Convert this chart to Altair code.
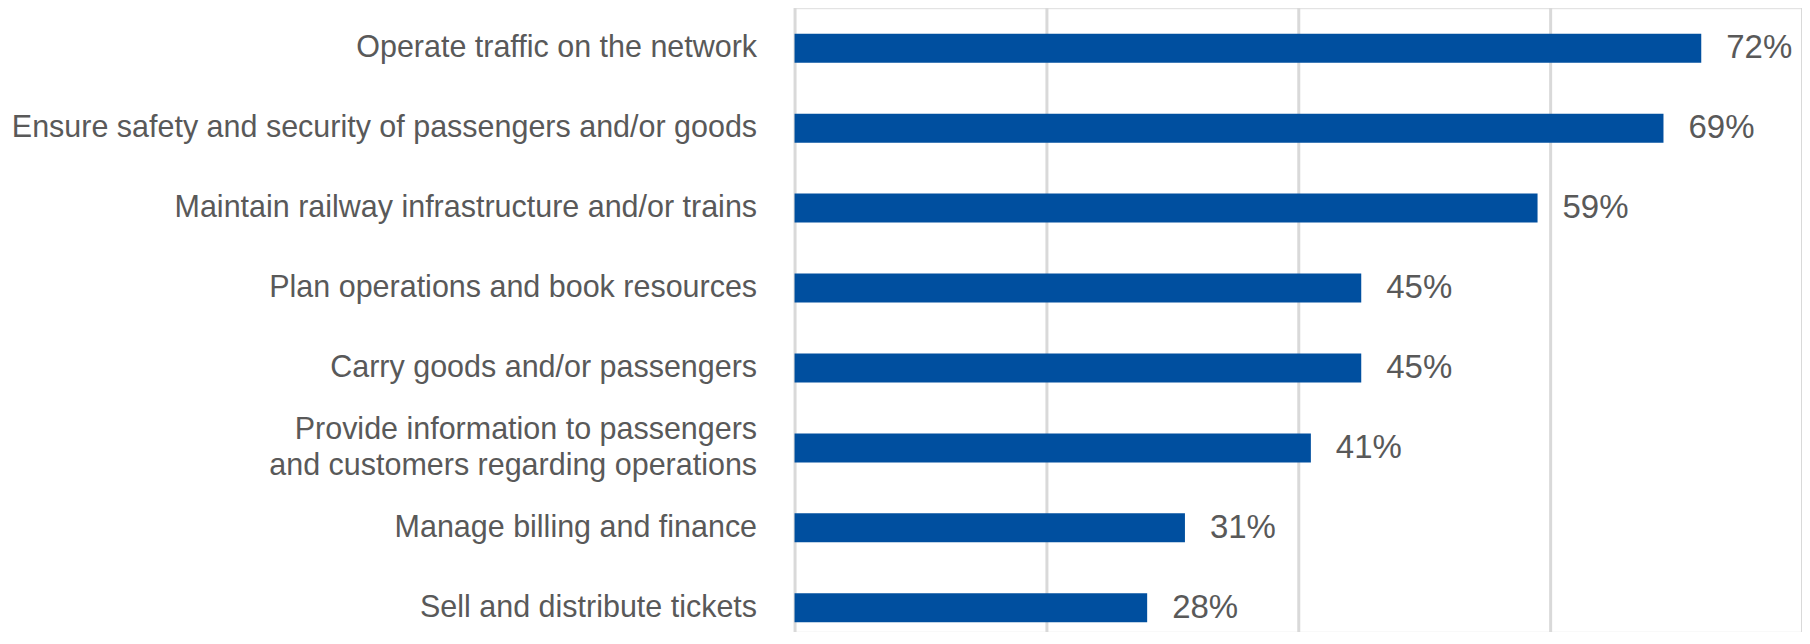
import altair as alt
import pandas as pd

categories = [
    "Operate traffic on the network",
    "Ensure safety and security of passengers and/or goods",
    "Maintain railway infrastructure and/or trains",
    "Plan operations and book resources",
    "Carry goods and/or passengers",
    "Provide information to passengers|and customers regarding operations",
    "Manage billing and finance",
    "Sell and distribute tickets",
]
values = [72, 69, 59, 45, 45, 41, 31, 28]
x_ticks = [0, 20, 40, 60, 80]

df = pd.DataFrame({"task": categories, "share": values})
df["label"] = [f"{v}%" for v in values]

y_enc = alt.Y(
    "task:N",
    sort=categories,
    scale=alt.Scale(range=[0, 640], paddingInner=0.6375, paddingOuter=0.32),
    axis=alt.Axis(
        title=None,
        ticks=False,
        domain=False,
        labelPadding=38,
        labelFont="Liberation Sans",
        labelFontSize=30.5,
        labelColor="#595959",
        labelLimit=0,
        labelLineHeight=36,
        labelOffset={"condition": {"test": "indexof(datum.value, '|') >= 0", "value": -18}, "value": 0},
        labelExpr="split(datum.label, '|')",
    ),
)

x_enc = alt.X(
    "share:Q",
    scale=alt.Scale(domain=[0, 80], nice=False),
    axis=alt.Axis(
        title=None,
        values=x_ticks,
        labels=False,
        ticks=False,
        domain=False,
        grid=True,
        gridColor="#D9D9D9",
        gridWidth=3,
    ),
)

bars = alt.Chart(df).mark_bar(color="#004F9F").encode(x=x_enc, y=y_enc)

texts = alt.Chart(df).mark_text(
    align="left",
    baseline="middle",
    dx=25,
    font="Liberation Sans",
    fontSize=33,
    color="#595959",
).encode(x="share:Q", y=alt.Y("task:N", sort=categories), text="label:N")

chart = (
    alt.layer(bars, texts)
    .properties(
        width=1008,
        height=624,
        autosize=alt.AutoSizeParams(type="none"),
        padding={"left": 787, "top": 0, "right": 0, "bottom": 0},
    )
    .configure_view(stroke=None)
    .configure(background="white")
)

chart.save("out.html", embed_options={"renderer": "svg", "actions": False})
